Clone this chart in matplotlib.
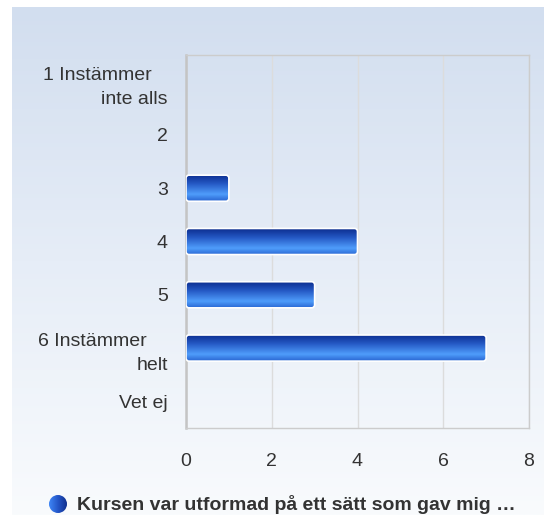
import numpy as np
import matplotlib
matplotlib.use('Agg')
import matplotlib.pyplot as plt
from matplotlib.patches import FancyBboxPatch, Ellipse
from matplotlib.colors import LinearSegmentedColormap

categories = ['1 Instämmer   \ninte alls', '2', '3', '4', '5', '6 Instämmer    \nhelt', 'Vet ej']
values = [0, 0, 1, 4, 3, 7, 0]
x_ticks = [0, 2, 4, 6, 8]
legend_label = 'Kursen var utformad på ett sätt som gav mig …'

plt.rcParams['font.family'] = ['Liberation Sans', 'DejaVu Sans']

W, H = 544, 515
fig = plt.figure(figsize=(W / 100, H / 100), dpi=100)

# background panel with soft vertical gradient
bg = fig.add_axes([12 / W, 0, 1 - 12 / W, (H - 7) / H])
bg_cmap = LinearSegmentedColormap.from_list('bg', ['#d2deef', '#e6edf7', '#f9fbfd'])
bg.imshow(np.linspace(0, 1, 256).reshape(-1, 1), aspect='auto', cmap=bg_cmap,
          extent=[0, 1, 0, 1], origin='upper')
bg.axis('off')

# plot area
left, right, top, bottom = 186, 529, 55, 428
ax = fig.add_axes([left / W, 1 - bottom / H, (right - left) / W, (bottom - top) / H])
ax.patch.set_alpha(0)

y = np.arange(len(categories))
bars = ax.barh(y, values, height=0.49, color='none', edgecolor='none')
ax.set_xlim(0, 8)
ax.set_ylim(len(categories) - 0.5, -0.5)

# px per data unit, used to keep the corner rounding circular
px_x = (right - left) / 8
px_y = (bottom - top) / len(categories)

bar_cmap = LinearSegmentedColormap.from_list(
    'bar', [(0, '#0b2b8c'), (0.35, '#2458c4'), (0.75, '#4f9dfb'), (1, '#2a67d2')])
grad = np.linspace(0, 1, 100).reshape(-1, 1)
for b in bars:
    w = b.get_width()
    if w <= 0:
        continue
    y0 = b.get_y()
    h = b.get_height()
    img = ax.imshow(grad, aspect='auto', cmap=bar_cmap, extent=[0, w, y0 + h, y0],
                    origin='upper', zorder=3)
    clip = FancyBboxPatch((0, y0), w, h, boxstyle='round,pad=0,rounding_size=%.3f' % (3 / px_x),
                          mutation_aspect=px_x / px_y, transform=ax.transData,
                          facecolor='none', edgecolor='white', linewidth=1.2, zorder=4)
    ax.add_patch(clip)
    img.set_clip_path(clip)
ax.set_xlim(0, 8)
ax.set_ylim(len(categories) - 0.5, -0.5)

ax.set_xticks(x_ticks)
ax.set_xticklabels([str(t) for t in x_ticks])
ax.set_yticks(y)
ax.set_yticklabels(categories, linespacing=1.55, ha='right', multialignment='right')
ax.tick_params(axis='both', length=0, labelsize=14, labelcolor='#333333')
ax.tick_params(axis='x', pad=18)
ax.tick_params(axis='y', pad=13)
ax.grid(axis='x', color='#dcdcdc', linewidth=1, zorder=0)
ax.set_axisbelow(True)
for s in ax.spines.values():
    s.set_color('#cccccc')
    s.set_linewidth(1)
ax.spines['left'].set_linewidth(1.8)
ax.spines['left'].set_color('#c4c4c4')

# legend marker: small circle with horizontal gradient
lx, ly = 58, 504
lax = fig.add_axes([(lx - 9) / W, 1 - (ly + 9) / H, 18 / W, 18 / H])
lax.set_xlim(0, 1)
lax.set_ylim(0, 1)
lax.axis('off')
leg_cmap = LinearSegmentedColormap.from_list('leg', ['#3f86f5', '#2456c8', '#10308f'])
limg = lax.imshow(np.linspace(0, 1, 50).reshape(1, -1), aspect='auto', cmap=leg_cmap,
                  extent=[0, 1, 0, 1])
circ = Ellipse((0.5, 0.5), 1, 1, transform=lax.transData, facecolor='none', edgecolor='none')
lax.add_patch(circ)
limg.set_clip_path(circ)
fig.text(77 / W, 1 - (ly + 1) / H, legend_label, fontsize=14, fontweight='bold',
         color='#333333', va='center', ha='left')

fig.savefig('out.png', dpi=100)
